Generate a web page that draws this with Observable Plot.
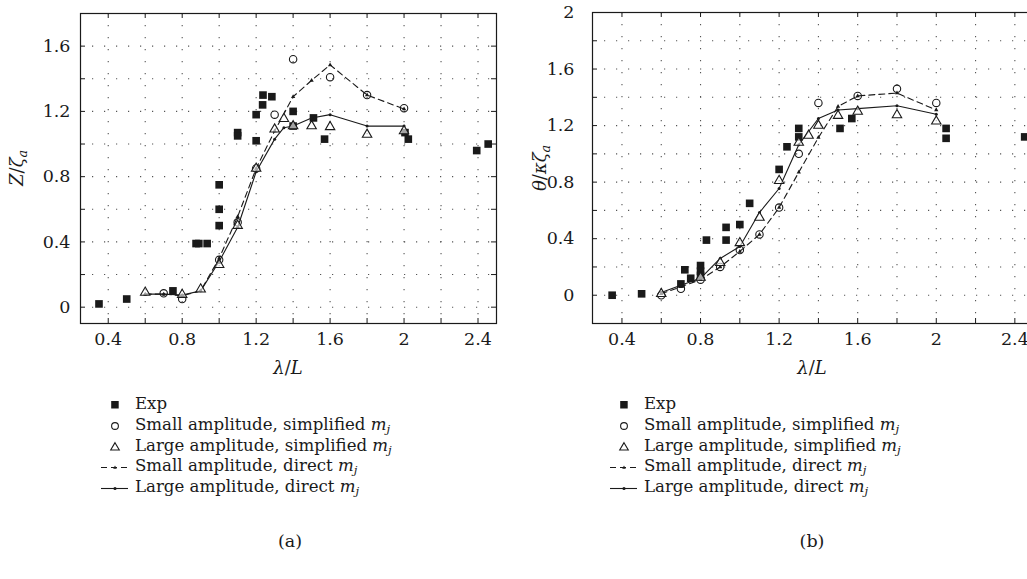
<!DOCTYPE html>
<html><head><meta charset="utf-8">
<script src="https://cdn.jsdelivr.net/npm/d3@7"></script>
<script src="https://cdn.jsdelivr.net/npm/@observablehq/plot@0.6"></script>
<style>
html,body{margin:0;padding:0;background:#fff}
body{width:1027px;height:579px;overflow:hidden;position:relative;font-family:"DejaVu Serif",serif;color:#1a1a1a}
.panel{position:absolute;top:0;height:579px}
.panel svg{position:absolute;left:0;top:0;overflow:visible}
.ylab{position:absolute;font-size:18px;white-space:nowrap;transform:translate(-50%,-50%) rotate(-90deg)}
.xlab{position:absolute;font-size:18px;white-space:nowrap;transform:translate(-50%,-50%)}
.cap{position:absolute;font-size:17.5px;transform:translate(-50%,-50%)}
.leg{position:absolute;font-size:16.6px;white-space:nowrap;line-height:20.8px}
.leg .row{position:relative;height:20.8px}
.leg .sw{position:absolute;top:0}
.leg .tx{position:absolute;top:0}
sub{font-size:70%;vertical-align:-0.25em}
</style>
</head><body>
<div id="pa" class="panel" style="left:0;width:512px"></div>
<div id="pb" class="panel" style="left:512px;width:530px"></div>
<script>
// ---------- axis ticks ----------
const xMajor = [0.4, 0.8, 1.2, 1.6, 2, 2.4];
const xMinor = [0.4, 0.6, 0.8, 1.0, 1.2, 1.4, 1.6, 1.8, 2.0, 2.2, 2.4];
const yMajorA = [0, 0.4, 0.8, 1.2, 1.6];
const yMinorA = [0, 0.2, 0.4, 0.6, 0.8, 1.0, 1.2, 1.4, 1.6];
const yMajorB = [0, 0.4, 0.8, 1.2, 1.6, 2];
const yMinorB = [0, 0.2, 0.4, 0.6, 0.8, 1.0, 1.2, 1.4, 1.6, 1.8];

// ---------- legend labels ----------
const legendNames = ["Exp", "Small amplitude, simplified ", "Large amplitude, simplified ", "Small amplitude, direct ", "Large amplitude, direct "];

// ---------- panel (a): Z / zeta_a ----------
const expA_x = [0.35, 0.5, 0.75, 0.875, 0.89, 0.935, 1.0, 1.0, 1.0, 1.1, 1.1, 1.2, 1.2, 1.235, 1.237, 1.285, 1.4, 1.4, 1.51, 1.57, 2.005, 2.023, 2.393, 2.455];
const expA_y = [0.02, 0.05, 0.10, 0.39, 0.39, 0.39, 0.75, 0.60, 0.50, 1.07, 1.05, 1.18, 1.02, 1.24, 1.30, 1.29, 1.20, 1.11, 1.16, 1.03, 1.07, 1.03, 0.96, 1.00];
const smallSimpA_x = [0.7, 0.8, 1.0, 1.1, 1.2, 1.3, 1.4, 1.6, 1.8, 2.0];
const smallSimpA_y = [0.085, 0.05, 0.29, 0.52, 0.85, 1.18, 1.52, 1.41, 1.30, 1.22];
const largeSimpA_x = [0.6, 0.8, 0.9, 1.0, 1.1, 1.2, 1.3, 1.35, 1.4, 1.5, 1.6, 1.8, 2.0];
const largeSimpA_y = [0.09, 0.077, 0.11, 0.26, 0.50, 0.85, 1.09, 1.155, 1.11, 1.11, 1.105, 1.058, 1.08];
const smallDirA_x = [0.6, 0.7, 0.8, 0.9, 1.0, 1.1, 1.2, 1.3, 1.4, 1.5, 1.6, 1.8, 2.0];
const smallDirA_y = [0.08, 0.08, 0.07, 0.10, 0.30, 0.555, 0.85, 1.08, 1.29, 1.39, 1.485, 1.30, 1.215];
const largeDirA_x = [0.6, 0.7, 0.8, 0.9, 1.0, 1.1, 1.2, 1.3, 1.35, 1.4, 1.5, 1.6, 1.8, 2.0];
const largeDirA_y = [0.08, 0.08, 0.075, 0.10, 0.28, 0.49, 0.83, 1.03, 1.10, 1.11, 1.16, 1.18, 1.11, 1.11];

// ---------- panel (b): theta / k zeta_a ----------
const expB_x = [0.35, 0.5, 0.7, 0.72, 0.75, 0.8, 0.8, 0.8, 0.83, 0.93, 0.93, 1.0, 1.05, 1.2, 1.24, 1.3, 1.3, 1.51, 1.57, 2.05, 2.05, 2.45];
const expB_y = [0.0, 0.01, 0.08, 0.18, 0.12, 0.21, 0.17, 0.14, 0.39, 0.48, 0.39, 0.50, 0.65, 0.89, 1.05, 1.18, 1.12, 1.18, 1.25, 1.18, 1.11, 1.12];
const smallSimpB_x = [0.6, 0.7, 0.8, 0.9, 1.0, 1.1, 1.2, 1.3, 1.4, 1.6, 1.8, 2.0];
const smallSimpB_y = [0.0, 0.045, 0.11, 0.20, 0.32, 0.43, 0.62, 1.0, 1.36, 1.41, 1.46, 1.36];
const largeSimpB_x = [0.6, 0.8, 0.9, 1.0, 1.1, 1.2, 1.3, 1.35, 1.4, 1.5, 1.6, 1.8, 2.0];
const largeSimpB_y = [0.01, 0.125, 0.23, 0.37, 0.55, 0.81, 1.08, 1.13, 1.20, 1.27, 1.30, 1.275, 1.23];
const smallDirB_x = [0.6, 0.7, 0.8, 0.9, 1.0, 1.1, 1.2, 1.3, 1.4, 1.5, 1.6, 1.8, 2.0];
const smallDirB_y = [0.01, 0.06, 0.11, 0.20, 0.31, 0.43, 0.62, 0.87, 1.115, 1.335, 1.41, 1.43, 1.31];
const largeDirB_x = [0.6, 0.7, 0.8, 0.9, 1.0, 1.1, 1.2, 1.3, 1.4, 1.5, 1.6, 1.8, 2.0];
const largeDirB_y = [0.02, 0.07, 0.12, 0.26, 0.345, 0.585, 0.755, 1.065, 1.25, 1.31, 1.32, 1.34, 1.28];

const zip = (xs, ys) => xs.map((x, i) => ({x, y: ys[i]}));
const FONT = '"DejaVu Serif", serif';

function drawPanel(el, cfg) {
  const {width, height, mL, mR, mT, mB, yDomain, yMajor, yMinor, yPad} = cfg;
  const fw = width - mL - mR, fh = height - mT - mB;
  const ink = "#1a1a1a";
  const grid = {stroke: "#555", strokeOpacity: 1, strokeWidth: 1.1, strokeDasharray: "1.2,10.8"};
  const svg = Plot.plot({
    width, height, marginLeft: mL, marginRight: mR, marginTop: mT, marginBottom: mB,
    style: {fontFamily: FONT, fontSize: "17.5px", color: ink, background: "transparent"},
    x: {domain: [0.25, 2.5]},
    y: {domain: yDomain},
    marks: [
      Plot.gridX(xMinor, grid),
      Plot.gridY(yMinor, grid),
      Plot.tickX(xMinor, {x: d => d, stroke: ink, insetTop: fh - 5}),
      Plot.tickX(xMinor, {x: d => d, stroke: ink, insetBottom: fh - 5}),
      Plot.tickY(yMinor, {y: d => d, stroke: ink, insetRight: fw - 5}),
      Plot.tickY(yMinor, {y: d => d, stroke: ink, insetLeft: fw - 5}),
      Plot.frame({stroke: ink, strokeWidth: 1.2}),
      Plot.axisX(xMajor, {tickSize: 0, tickPadding: 9, tickFormat: d => `${d}`, label: null, fontSize: 17.5, fontFamily: FONT, fill: ink}),
      Plot.axisY(yMajor, {tickSize: 0, tickPadding: yPad, tickFormat: d => `${d}`, label: null, fontSize: 17.5, fontFamily: FONT, fill: ink}),
      Plot.dot(cfg.exp, {x: "x", y: "y", symbol: "square", r: 4.3, fill: ink, stroke: "none"}),
      Plot.line(cfg.smallDir, {x: "x", y: "y", stroke: ink, strokeWidth: 1.1, strokeDasharray: "6,4"}),
      Plot.dot(cfg.smallDir, {x: "x", y: "y", symbol: "triangle", r: 1.6, fill: ink, stroke: "none"}),
      Plot.line(cfg.largeDir, {x: "x", y: "y", stroke: ink, strokeWidth: 1.1}),
      Plot.dot(cfg.largeDir, {x: "x", y: "y", r: 1.5, fill: ink, stroke: "none"}),
      Plot.dot(cfg.smallSimp, {x: "x", y: "y", r: 3.7, fill: "none", stroke: ink, strokeWidth: 1.1}),
      Plot.dot(cfg.largeSimp, {x: "x", y: "y", symbol: "triangle", r: 3.5, fill: "white", fillOpacity: 0.6, stroke: ink, strokeWidth: 1.1})
    ]
  });
  svg.style.fontFamily = FONT;
  el.appendChild(svg);

  const yl = document.createElement("div");
  yl.className = "ylab"; yl.style.left = cfg.ylabX + "px"; yl.style.top = (mT + fh / 2) + "px";
  yl.innerHTML = cfg.ylabHTML; el.appendChild(yl);

  const xl = document.createElement("div");
  xl.className = "xlab"; xl.style.left = cfg.xlabX + "px"; xl.style.top = "367px";
  xl.innerHTML = "<i>λ</i>/<i>L</i>"; el.appendChild(xl);

  const leg = document.createElement("div");
  leg.className = "leg"; leg.style.left = cfg.legX + "px"; leg.style.top = "394px";
  const sw = [
    `<svg width="28" height="20"><rect x="10.2" y="7" width="7.5" height="7.5" fill="${ink}"/></svg>`,
    `<svg width="28" height="20"><circle cx="14" cy="11" r="3.4" fill="none" stroke="${ink}" stroke-width="1.1"/></svg>`,
    `<svg width="28" height="20"><path d="M14 6.7 L18.3 14 L9.7 14 Z" fill="none" stroke="${ink}" stroke-width="1.1"/></svg>`,
    `<svg width="28" height="20"><line x1="0" y1="11.5" x2="27" y2="11.5" stroke="${ink}" stroke-width="1.1" stroke-dasharray="6,4"/><path d="M14 9.5 L15.8 12.7 L12.2 12.7 Z" fill="${ink}"/></svg>`,
    `<svg width="28" height="20"><line x1="0" y1="11.5" x2="27" y2="11.5" stroke="${ink}" stroke-width="1.1"/><circle cx="14" cy="11.5" r="1.6" fill="${ink}"/></svg>`
  ];
  legendNames.forEach((n, i) => {
    const row = document.createElement("div");
    row.className = "row";
    row.innerHTML = `<span class="sw">${sw[i]}</span><span class="tx" style="left:34px">${n}${i > 0 ? "<i>m<sub>j</sub></i>" : ""}</span>`;
    leg.appendChild(row);
  });
  el.appendChild(leg);

  const cap = document.createElement("div");
  cap.className = "cap"; cap.style.left = cfg.capX + "px"; cap.style.top = "541px";
  cap.textContent = cfg.cap; el.appendChild(cap);
}

drawPanel(document.getElementById("pa"), {
  width: 510, height: 380, mL: 80, mR: 14, mT: 13, mB: 57,
  yDomain: [-0.1, 1.8], yMajor: yMajorA, yMinor: yMinorA, yPad: 10,
  exp: zip(expA_x, expA_y), smallSimp: zip(smallSimpA_x, smallSimpA_y), largeSimp: zip(largeSimpA_x, largeSimpA_y),
  smallDir: zip(smallDirA_x, smallDirA_y), largeDir: zip(largeDirA_x, largeDirA_y),
  ylabX: 18, ylabHTML: "<i>Z</i>/<i>ζ<sub>a</sub></i>", xlabX: 288, legX: 101, capX: 290, cap: "(a)"
});
drawPanel(document.getElementById("pb"), {
  width: 530, height: 380, mL: 80, mR: 8, mT: 12, mB: 57,
  yDomain: [-0.2, 2], yMajor: yMajorB, yMinor: yMinorB, yPad: 18,
  exp: zip(expB_x, expB_y), smallSimp: zip(smallSimpB_x, smallSimpB_y), largeSimp: zip(largeSimpB_x, largeSimpB_y),
  smallDir: zip(smallDirB_x, smallDirB_y), largeDir: zip(largeDirB_x, largeDirB_y),
  ylabX: 29, ylabHTML: "<i>θ</i>/<i>κζ<sub>a</sub></i>", xlabX: 300, legX: 98, capX: 300, cap: "(b)"
});
</script>
</body></html>
